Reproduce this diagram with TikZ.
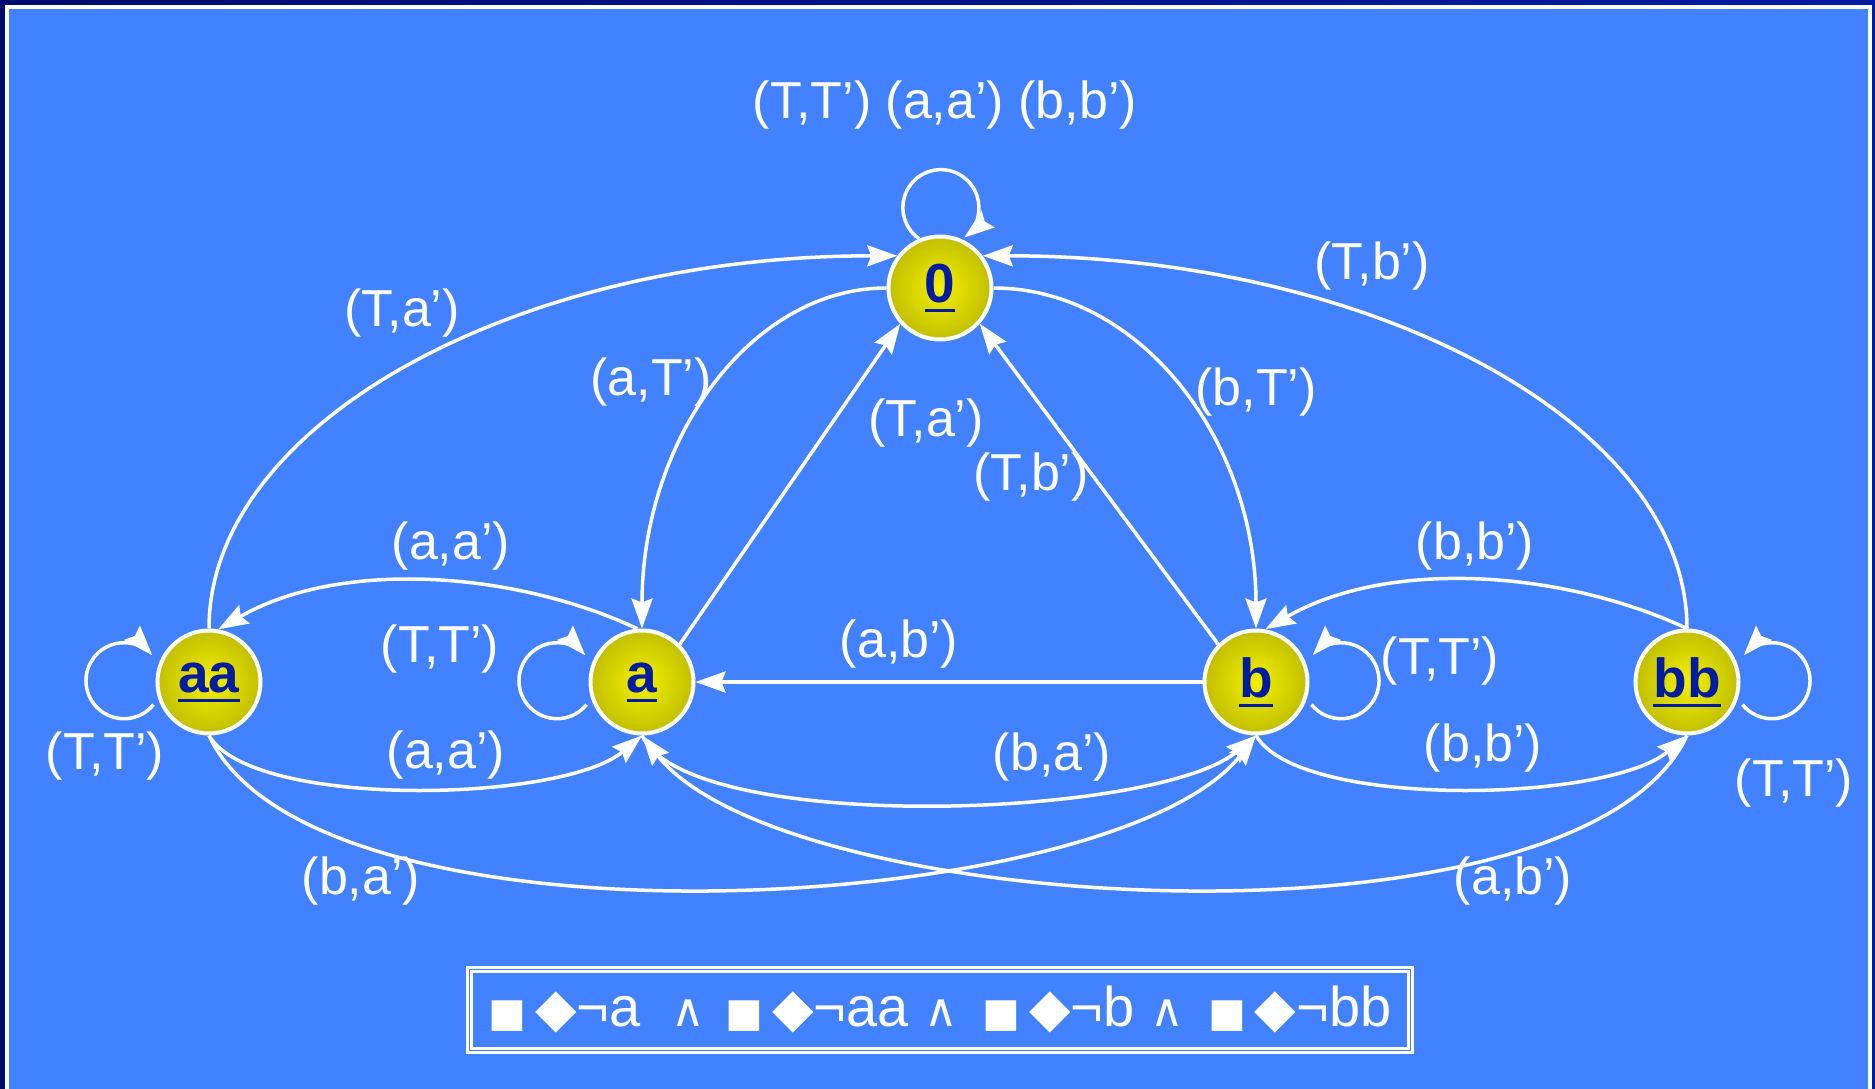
\documentclass[tikz,border=0pt]{standalone}
\usepackage{fontspec}
\setmainfont{Liberation Sans}
\newfontfamily\dejavu{DejaVu Sans}
\usetikzlibrary{arrows.meta}

\definecolor{navyA}{RGB}{0,12,110}
\definecolor{navyB}{RGB}{0,28,165}
\definecolor{slideblue}{RGB}{66,129,255}
\definecolor{statetext}{RGB}{0,28,160}
\definecolor{stateinner}{RGB}{245,240,0}
\definecolor{stateouter}{RGB}{150,150,0}
\pgfdeclareradialshading{ball}{\pgfpoint{0bp}{0bp}}{%
  color(0bp)=(stateinner); color(46bp)=(stateouter); color(50bp)=(stateouter)}

\newcommand{\stname}[1]{\vtop{\hbox{#1}\kern6pt\hrule height 3pt}}
\newcommand{\boxsym}{{\dejavu\fontsize{40}{48}\selectfont ■}}
\newcommand{\diasym}{{\dejavu\fontsize{54}{48}\selectfont ◆}}
\newcommand{\andsym}{{\dejavu\fontsize{46}{48}\selectfont ∧}}

\begin{document}
\begin{tikzpicture}[x=1pt,y=1pt,
  >={Stealth[length=30pt,width=21pt,inset=4pt]},
  every node/.style={font=\fontsize{52}{60}\selectfont,text=white},
  state/.style={circle,draw=white,line width=4pt,minimum size=103pt,
    inner sep=0pt,shading=ball,
    font=\fontsize{55}{60}\selectfont\bfseries,text=statetext},
  trans/.style={->,draw=white,line width=3.5pt},
  legendbox/.style={draw=white,double=slideblue,double distance=1.5pt,
    line width=3pt,minimum width=941pt,minimum height=81pt,inner sep=0pt,
    font=\fontsize{56}{60}\selectfont}]
  \useasboundingbox (0,0) rectangle (1875,-1089);
  % slide background and frame
  \fill[left color=navyA,right color=navyB] (0,0) rectangle (1875,-1089);
  \fill[slideblue] (9,-9) rectangle (1868,-1089);
  \draw[white,line width=4pt] (7,-1089) -- (7,-7) -- (1870,-7) -- (1870,-1089);

  % states
  \node[state] (n0) at (940,-288) {\stname{0}};
  \node[state] (aa) at (209,-682) {\stname{aa}};
  \node[state] (a) at (642,-682) {\stname{a}};
  \node[state] (b) at (1256,-682) {\stname{b}};
  \node[state] (bb) at (1687,-682) {\stname{bb}};

  % self loops
  \draw[trans] (n0.113) arc[start angle=235,end angle=-52,radius=38];
  \draw[trans] ([xshift=-7pt]aa.205) arc[start angle=-39,end angle=-318,radius=38];
  \draw[trans] ([xshift=-7pt]a.205) arc[start angle=-39,end angle=-318,radius=38];
  \draw[trans] ([xshift=7pt]b.-25) arc[start angle=219,end angle=498,radius=38];
  \draw[trans] ([xshift=7pt]bb.-25) arc[start angle=219,end angle=498,radius=38];

  % transitions around 0
  \draw[trans] (aa.north) .. controls +(90:205) and +(180:381) .. (n0.143);
  \draw[trans] (bb.north) .. controls +(90:205) and +(0:390) .. (n0.37);
  \draw[trans] (n0.west) .. controls +(180:136) and +(90:189) .. (a.north);
  \draw[trans] (n0.east) .. controls +(0:146) and +(90:189) .. (b.north);
  \draw[trans] (a.45) -- (n0.222);
  \draw[trans] (b.135) -- (n0.318);
  \draw[trans] (b.west) -- (a.east);

  % transitions between the lower states
  \draw[trans] (a.95) to[out=155,in=30,looseness=0.85] (aa.80);
  \draw[trans] (bb.north) to[out=155,in=30,looseness=0.85] (b.80);
  \draw[trans] (aa.south) .. controls +(-60:85) and +(-140:105) .. (a.south);
  \draw[trans] (b.south) .. controls +(-60:85) and +(-140:105) .. (bb.south);
  \draw[trans] (a.south) .. controls +(-65:110) and +(-140:130) .. (b.south);
  \draw[trans] (aa.south) .. controls +(-65:250) and +(-128:230) .. (b.south);
  \draw[trans] (bb.south) .. controls +(-115:250) and +(-52:230) .. (a.south);

  % labels
  \node (l0loop) at (945,-105) {(T,T’) (a,a’) (b,b’)};
  \node (lTa1) at (402,-313) {(T,a’)};
  \node (laT) at (651,-382) {(a,T’)};
  \node (lTa2) at (926,-423) {(T,a’)};
  \node (lTb2) at (1031,-477) {(T,b’)};
  \node (lbT) at (1256,-392) {(b,T’)};
  \node (lTb1) at (1372,-266) {(T,b’)};
  \node (laa1) at (451,-546) {(a,a’)};
  \node (lTTa) at (440,-649) {(T,T’)};
  \node (lab1) at (899,-644) {(a,b’)};
  \node (lbb1) at (1475,-546) {(b,b’)};
  \node (lTTb) at (1440,-661) {(T,T’)};
  \node (lTTaa) at (105,-756) {(T,T’)};
  \node (laa2) at (446,-755) {(a,a’)};
  \node (lba1) at (1052,-757) {(b,a’)};
  \node (lbb2) at (1483,-748) {(b,b’)};
  \node (lTTbb) at (1794,-783) {(T,T’)};
  \node (lba2) at (361,-881) {(b,a’)};
  \node (lab2) at (1513,-881) {(a,b’)};

  % formula box
  \node[legendbox] (legend) at (940,-1010)
    {\boxsym\hspace{9pt}\diasym¬a\hspace{31pt}\andsym\hspace{20pt}%
     \boxsym\hspace{9pt}\diasym¬aa\hspace{16pt}\andsym\hspace{24pt}%
     \boxsym\hspace{9pt}\diasym¬b\hspace{16pt}\andsym\hspace{24pt}%
     \boxsym\hspace{9pt}\diasym¬bb};
\end{tikzpicture}
\end{document}
